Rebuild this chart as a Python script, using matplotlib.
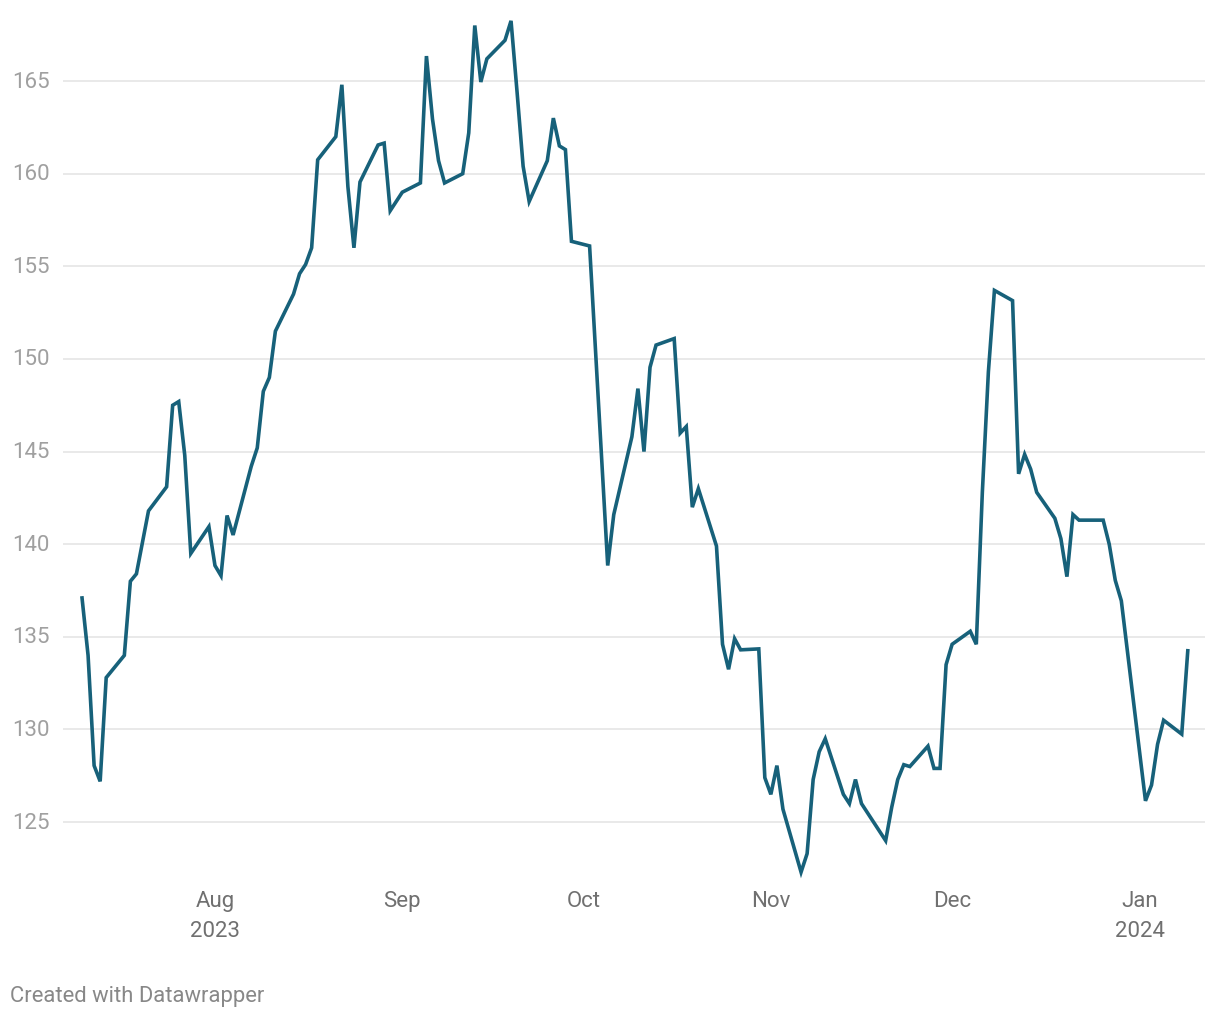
import matplotlib
matplotlib.use('Agg')
import matplotlib.pyplot as plt
import matplotlib.dates as mdates
import pandas as pd

# closing prices
dates = [
    "2023-07-10", "2023-07-11", "2023-07-12", "2023-07-13", "2023-07-14",
    "2023-07-17", "2023-07-18", "2023-07-19", "2023-07-20", "2023-07-21",
    "2023-07-24", "2023-07-25", "2023-07-26", "2023-07-27", "2023-07-28",
    "2023-07-31", "2023-08-01", "2023-08-02", "2023-08-03", "2023-08-04",
    "2023-08-07", "2023-08-08", "2023-08-09", "2023-08-10", "2023-08-11",
    "2023-08-14", "2023-08-15", "2023-08-16", "2023-08-17", "2023-08-18",
    "2023-08-21", "2023-08-22", "2023-08-23", "2023-08-24", "2023-08-25",
    "2023-08-28", "2023-08-29", "2023-08-30", "2023-08-31", "2023-09-01",
    "2023-09-04", "2023-09-05", "2023-09-06", "2023-09-07", "2023-09-08",
    "2023-09-11", "2023-09-12", "2023-09-13", "2023-09-14", "2023-09-15",
    "2023-09-18", "2023-09-19", "2023-09-20", "2023-09-21", "2023-09-22",
    "2023-09-25", "2023-09-26", "2023-09-27", "2023-09-28", "2023-09-29",
    "2023-10-02", "2023-10-03", "2023-10-04", "2023-10-05", "2023-10-06",
    "2023-10-09", "2023-10-10", "2023-10-11", "2023-10-12", "2023-10-13",
    "2023-10-16", "2023-10-17", "2023-10-18", "2023-10-19", "2023-10-20",
    "2023-10-23", "2023-10-24", "2023-10-25", "2023-10-26", "2023-10-27",
    "2023-10-30", "2023-10-31", "2023-11-01", "2023-11-02", "2023-11-03",
    "2023-11-06", "2023-11-07", "2023-11-08", "2023-11-09", "2023-11-10",
    "2023-11-13", "2023-11-14", "2023-11-15", "2023-11-16", "2023-11-17",
    "2023-11-20", "2023-11-21", "2023-11-22", "2023-11-23", "2023-11-24",
    "2023-11-27", "2023-11-28", "2023-11-29", "2023-11-30", "2023-12-01",
    "2023-12-04", "2023-12-05", "2023-12-06", "2023-12-07", "2023-12-08",
    "2023-12-11", "2023-12-12", "2023-12-13", "2023-12-14", "2023-12-15",
    "2023-12-18", "2023-12-19", "2023-12-20", "2023-12-21", "2023-12-22",
    "2023-12-26", "2023-12-27", "2023-12-28", "2023-12-29",
    "2024-01-02", "2024-01-03", "2024-01-04", "2024-01-05",
    "2024-01-08", "2024-01-09",
]
prices = [
    137.1, 134.0, 128.05, 127.2, 132.8,
    134.0, 138.0, 138.4, 140.1, 141.8,
    143.1, 147.5, 147.7, 144.8, 139.5,
    140.95, 138.85, 138.3, 141.55, 140.5,
    144.2, 145.2, 148.25, 149.0, 151.5,
    153.5, 154.6, 155.1, 156.0, 160.75,
    162.0, 164.8, 159.3, 156.0, 159.55,
    161.55, 161.65, 158.0, 158.5, 159.0,
    159.5, 166.35, 162.95, 160.7, 159.5,
    160.0, 162.2, 168.0, 164.95, 166.2,
    167.2, 168.25, 164.4, 160.4, 158.5,
    160.7, 163.0, 161.5, 161.3, 156.35,
    156.1, 150.3, 144.6, 138.85, 141.6,
    145.8, 148.4, 145.0, 149.55, 150.75,
    151.1, 146.0, 146.35, 142.0, 143.0,
    139.9, 134.6, 133.25, 134.9, 134.3,
    134.35, 127.4, 126.5, 128.05, 125.7,
    122.3, 123.3, 127.3, 128.8, 129.5,
    126.5, 126.0, 127.3, 126.0, 125.5,
    124.0, 125.8, 127.3, 128.1, 128.0,
    129.1, 127.9, 127.9, 133.5, 134.6,
    135.3, 134.6, 142.8, 149.3, 153.7,
    153.15, 143.8, 144.85, 144.05, 142.8,
    141.4, 140.3, 138.25, 141.6, 141.3,
    141.3, 140.0, 138.05, 136.95,
    126.15, 127.0, 129.2, 130.5,
    129.75, 134.25,
]

tick_dates = ["2023-08-01", "2023-09-01", "2023-10-01", "2023-11-01", "2023-12-01", "2024-01-01"]
tick_labels = ["Aug\n2023", "Sep", "Oct", "Nov", "Dec", "Jan\n2024"]
y_ticks = [125, 130, 135, 140, 145, 150, 155, 160, 165]

plt.rcParams['font.family'] = ['Roboto', 'DejaVu Sans']

W, H = 1220, 1020
fig = plt.figure(figsize=(W / 100, H / 100), dpi=100)
fig.patch.set_facecolor('white')
ax = fig.add_axes([63 / W, (H - 880) / H, (1205 - 63) / W, (880 - 15) / H])

x = pd.to_datetime(dates)
ax.plot(x, prices, color='#17617a', linewidth=2.6, solid_joinstyle='miter', zorder=3)

x0 = mdates.date2num(x[0]) - 3.15
x1 = mdates.date2num(x[-1]) + 2.85
ax.set_xlim(x0, x1)
ax.set_ylim(121.93, 168.62)

ax.set_yticks(y_ticks)
ax.set_yticklabels([str(v) for v in y_ticks])
ax.set_xticks(pd.to_datetime(tick_dates))
ax.set_xticklabels(tick_labels, linespacing=1.55)

ax.grid(axis='y', color='#e3e3e3', linewidth=1.1, zorder=0)
ax.grid(axis='x', visible=False)
for s in ax.spines.values():
    s.set_visible(False)

ax.tick_params(axis='y', length=0, pad=9.5, labelsize=16, labelcolor='#a0a0a0')
ax.tick_params(axis='x', length=0, pad=8, labelsize=16, labelcolor='#707070')
for lab in ax.get_yticklabels():
    lab.set_verticalalignment('center')

fig.text(10 / W, 1 - 997 / H, "Created with Datawrapper", fontsize=15.8,
         color='#888888', va='center', ha='left')

plt.savefig('out.png', dpi=100, facecolor='white')
